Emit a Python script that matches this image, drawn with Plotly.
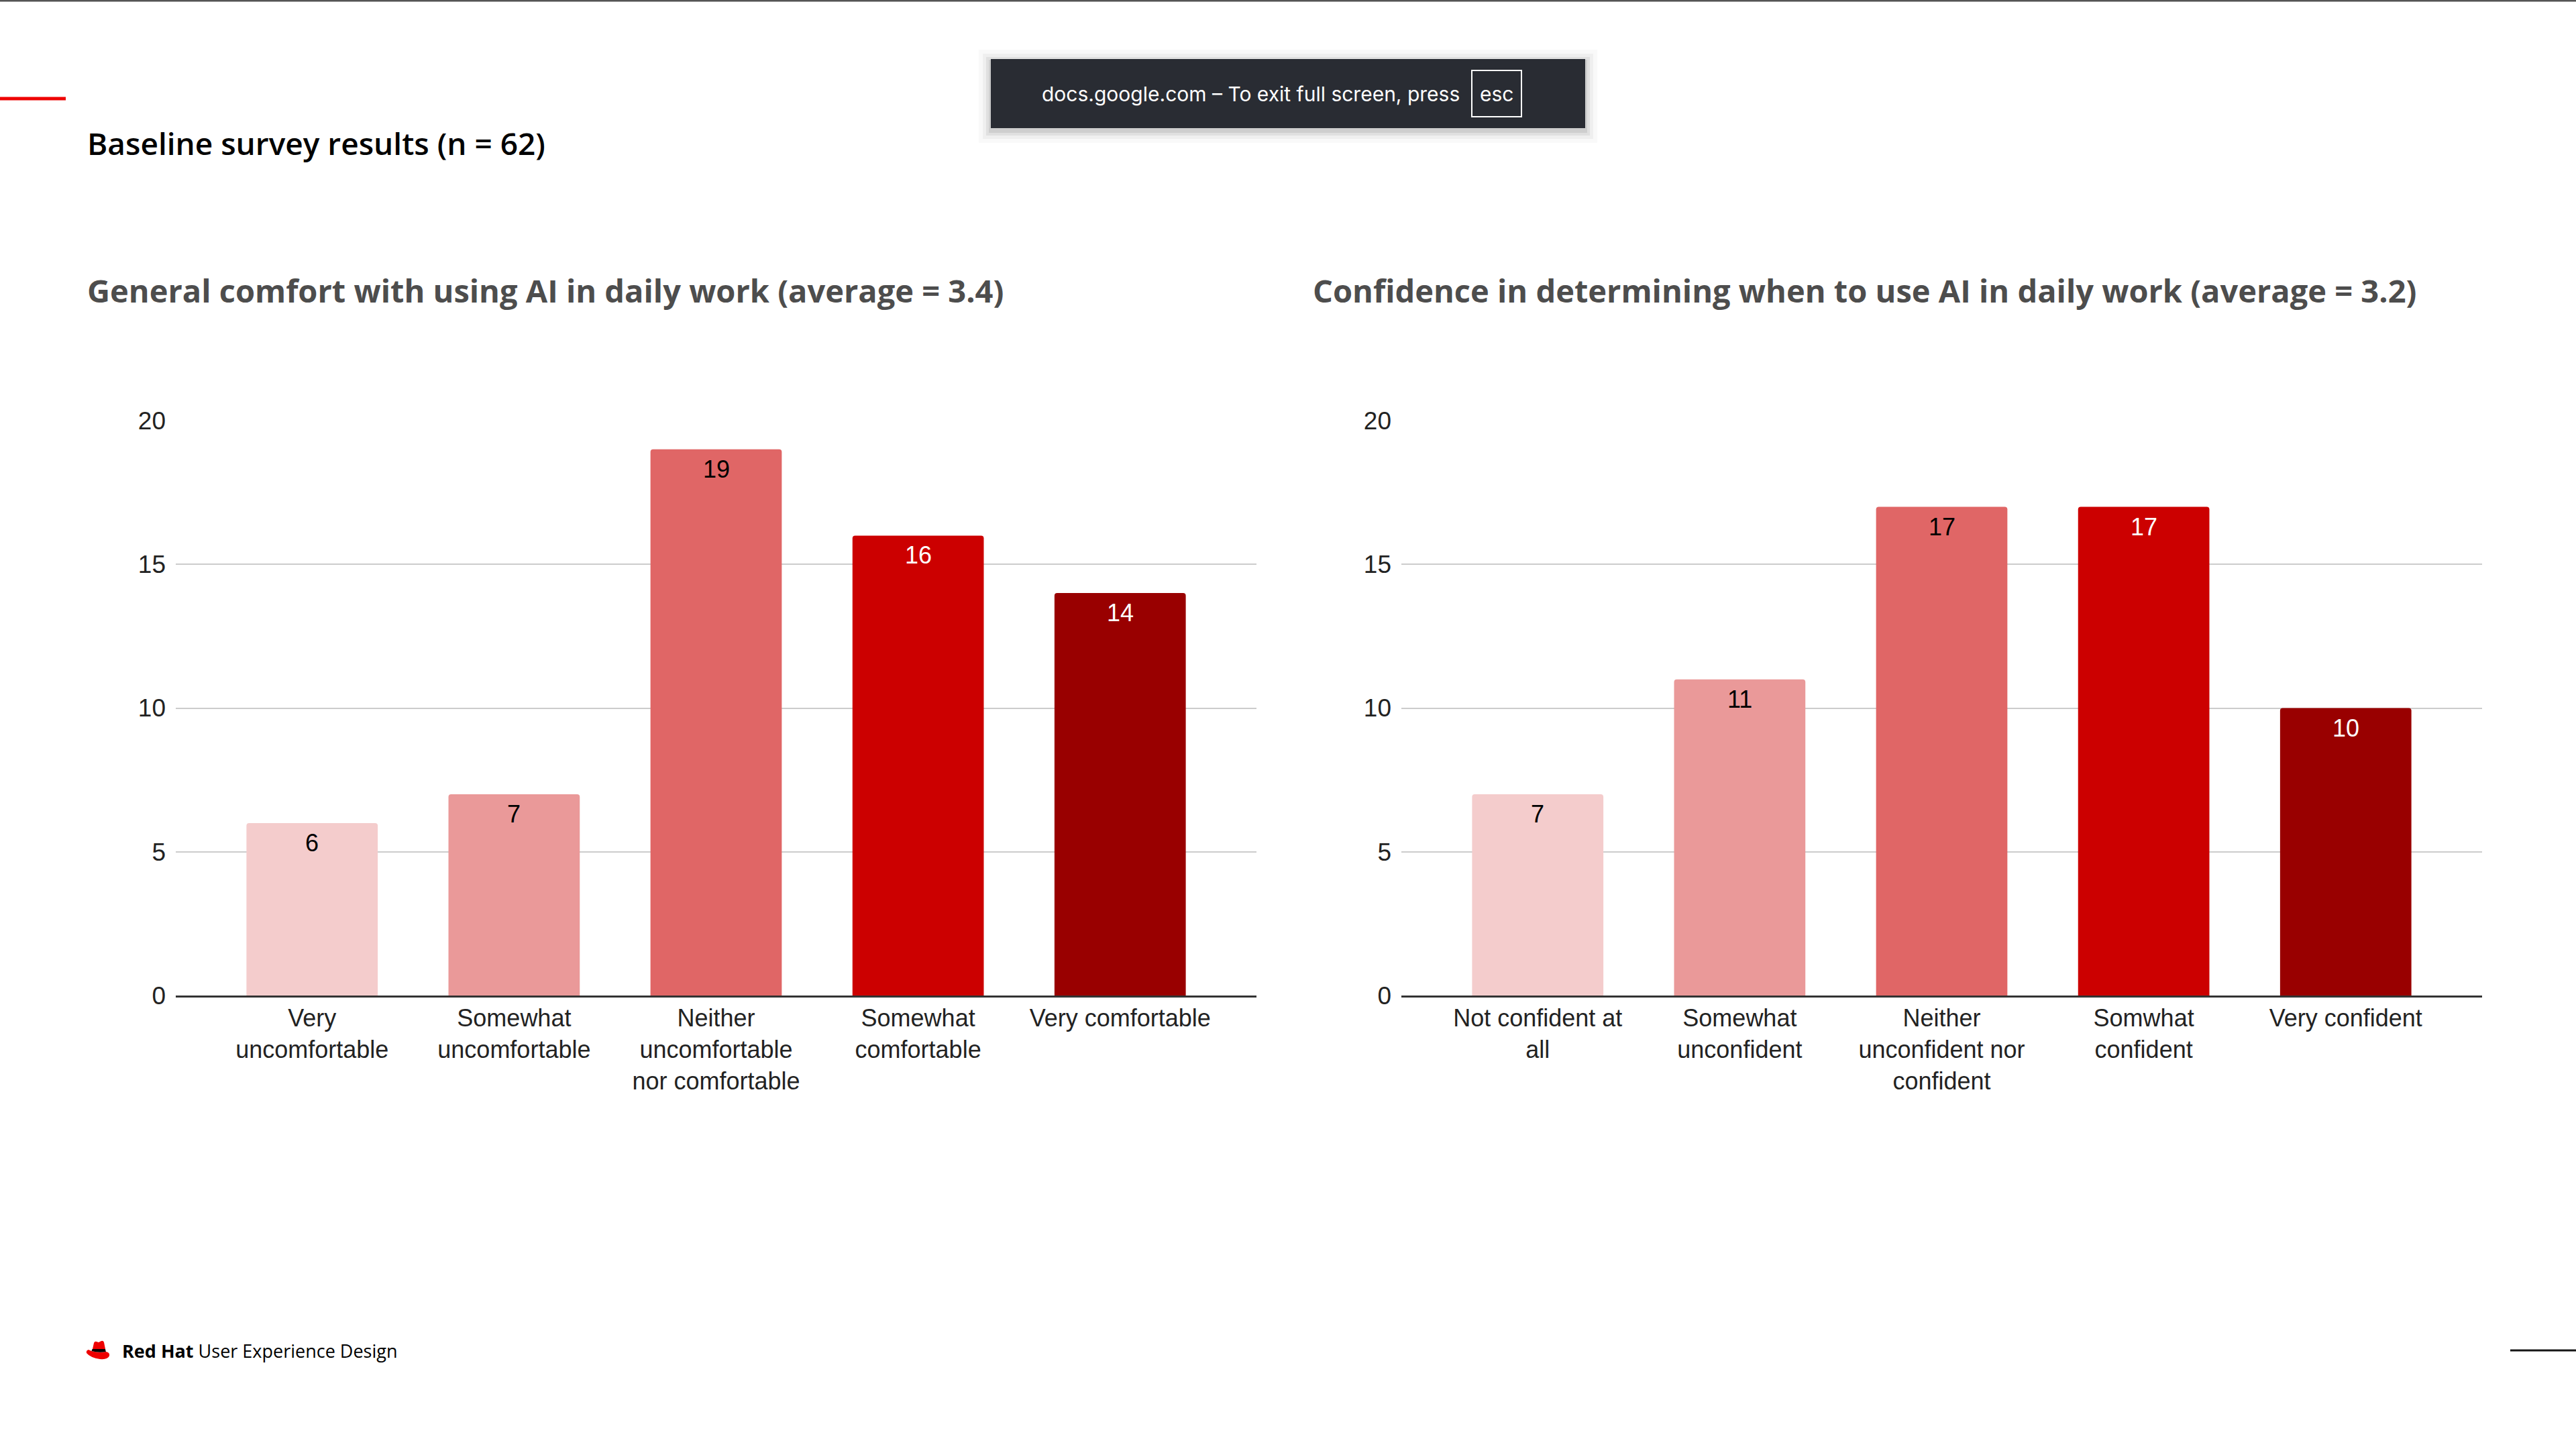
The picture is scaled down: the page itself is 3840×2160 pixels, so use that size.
import plotly.graph_objects as go

W, H = 3840, 2160

# ---------------- data ----------------
main_title = "Baseline survey results (n = 62)"
left_title = "General comfort with using AI in daily work (average = 3.4)"
right_title = "Confidence in determining when to use AI in daily work (average = 3.2)"

left_categories = [
    "Very<br>uncomfortable",
    "Somewhat<br>uncomfortable",
    "Neither<br>uncomfortable<br>nor comfortable",
    "Somewhat<br>comfortable",
    "Very comfortable",
]
left_values = [6, 7, 19, 16, 14]

right_categories = [
    "Not confident at<br>all",
    "Somewhat<br>unconfident",
    "Neither<br>unconfident nor<br>confident",
    "Somwhat<br>confident",
    "Very confident",
]
right_values = [7, 11, 17, 17, 10]

y_ticks = [0, 5, 10, 15, 20]

bar_colors = ["#f4cccc", "#ea9999", "#e06666", "#cc0000", "#990000"]
label_colors = ["#000000", "#000000", "#000000", "#ffffff", "#ffffff"]

toast_text = "docs.google.com – To exit full screen, press"
footer_text = "<b>Red Hat</b> User Experience Design"


# ---------------- helpers ----------------
def px(x):
    return x / W


def py(y):
    return 1 - y / H


AX_FONT = dict(family="Liberation Sans, Arial, sans-serif", size=36, color="#222222")

fig = go.Figure()

for cats, vals, xa, ya in [
    (left_categories, left_values, "x", "y"),
    (right_categories, right_values, "x2", "y2"),
]:
    fig.add_trace(
        go.Bar(
            x=cats,
            y=vals,
            marker=dict(color=bar_colors, line=dict(width=0)),
            width=0.65,
            xaxis=xa,
            yaxis=ya,
            hoverinfo="skip",
            showlegend=False,
        )
    )

x_common = dict(
    type="category",
    range=[-0.675, 4.675],
    showgrid=False,
    showline=True,
    linecolor="#333333",
    linewidth=3,
    ticks="",
    tickfont=AX_FONT,
    automargin=False,
    fixedrange=True,
)
y_common = dict(
    range=[0, 20],
    tickvals=y_ticks,
    showgrid=True,
    gridcolor="#cccccc",
    gridwidth=2,
    zeroline=False,
    showline=False,
    ticks="",
    tickfont=dict(AX_FONT, size=37),
    ticklabelstandoff=14,
    automargin=False,
    fixedrange=True,
    domain=[py(1484), py(627)],
)

fig.update_layout(
    width=W,
    height=H,
    autosize=False,
    margin=dict(l=0, r=0, t=0, b=0, pad=0, autoexpand=False),
    paper_bgcolor="white",
    plot_bgcolor="white",
    showlegend=False,
    barcornerradius=4,
    xaxis=dict(x_common, domain=[px(262), px(1873)], anchor="y"),
    yaxis=dict(y_common, anchor="x"),
    xaxis2=dict(x_common, domain=[px(2089), px(3700)], anchor="y2"),
    yaxis2=dict(y_common, anchor="x2"),
)

annotations = []
# value labels
for cats, vals, xr, yr in [
    (left_categories, left_values, "x", "y"),
    (right_categories, right_values, "x2", "y2"),
]:
    for i, (c, v) in enumerate(zip(cats, vals)):
        annotations.append(
            dict(
                x=c,
                y=v,
                xref=xr,
                yref=yr,
                text=str(v),
                showarrow=False,
                yanchor="top",
                yshift=-7,
                font=dict(family="Liberation Sans, Arial, sans-serif", size=36, color=label_colors[i]),
            )
        )

# titles
annotations.append(
    dict(x=px(128), y=py(213), xref="paper", yref="paper", xanchor="left", yanchor="middle",
         text=main_title, showarrow=False,
         font=dict(family="Open Sans", size=46, color="#000000", weight=600))
)
for t, x0 in [(left_title, 128), (right_title, 1955)]:
    annotations.append(
        dict(x=px(x0), y=py(433), xref="paper", yref="paper", xanchor="left", yanchor="middle",
             text=t, showarrow=False,
             font=dict(family="Open Sans", size=47, color="#4d4d4d", weight=700))
    )

# toast
annotations.append(
    dict(x=px(2178), y=py(140), xref="paper", yref="paper", xanchor="right", yanchor="middle",
         text=toast_text, showarrow=False,
         font=dict(family="Inter", size=30, color="#ffffff"))
)
annotations.append(
    dict(x=px(2231), y=py(140), xref="paper", yref="paper", xanchor="center", yanchor="middle",
         text="esc", showarrow=False,
         font=dict(family="Inter", size=30, color="#ffffff"))
)

# footer
annotations.append(
    dict(x=px(180), y=py(2013), xref="paper", yref="paper", xanchor="left", yanchor="middle",
         text=footer_text, showarrow=False,
         font=dict(family="Open Sans", size=27, color="#000000"))
)

fig.update_layout(annotations=annotations)

shapes = []
# top border line
shapes.append(dict(type="line", xref="paper", yref="paper", x0=0, x1=1, y0=py(1), y1=py(1),
                   line=dict(color="#555555", width=3)))
# red accent line
shapes.append(dict(type="line", xref="paper", yref="paper", x0=0, x1=px(98), y0=py(147), y1=py(147),
                   line=dict(color="#ee0000", width=5)))
# bottom right line
shapes.append(dict(type="line", xref="paper", yref="paper", x0=px(3742), x1=1, y0=py(2013), y1=py(2013),
                   line=dict(color="#151515", width=3)))

# toast shadow + box
for k, a in [(18, 0.025), (12, 0.04), (7, 0.06), (3, 0.08)]:
    shapes.append(dict(type="rect", xref="paper", yref="paper",
                       x0=px(1477 - k), x1=px(2363 + k), y0=py(191 + k + 4), y1=py(88 - k + 4),
                       fillcolor=f"rgba(0,0,0,{a})", line=dict(width=0), layer="above"))
shapes.append(dict(type="rect", xref="paper", yref="paper",
                   x0=px(1477), x1=px(2363), y0=py(191), y1=py(88),
                   fillcolor="#292c33", line=dict(width=0), layer="above"))
shapes.append(dict(type="rect", xref="paper", yref="paper",
                   x0=px(2194), x1=px(2268), y0=py(174), y1=py(105),
                   fillcolor="rgba(0,0,0,0)", line=dict(color="#ffffff", width=2), layer="above"))


# Red Hat fedora logo
def logo_path(pts_cmds, ox=127, oy=1998):
    out = []
    for cmd, coords in pts_cmds:
        if cmd == "Z":
            out.append("Z")
            continue
        pairs = []
        for (lx, ly) in coords:
            pairs.append(f"{px(ox + lx):.6f},{py(oy + ly):.6f}")
        out.append(cmd + " " + " ".join(pairs))
    return " ".join(out)


crown = [("M", [(11, 13)]), ("L", [(13, 4)]), ("Q", [(14, 1), (17, 2)]), ("L", [(20, 3)]),
         ("L", [(24, 1)]), ("Q", [(27, 0), (28, 3)]), ("L", [(30, 13)]), ("Z", [])]
band = [("M", [(10.5, 13)]), ("L", [(30, 13)]), ("L", [(30.8, 17)]), ("Q", [(20, 19), (9.5, 16)]), ("Z", [])]
brim = [("M", [(9.5, 16)]), ("Q", [(20, 19), (30.8, 17)]), ("Q", [(37, 18), (36, 23)]),
        ("Q", [(34, 29), (22, 28)]), ("Q", [(8, 26), (2, 19)]), ("Q", [(1, 15), (5, 14)]),
        ("Q", [(7, 15), (9.5, 16)]), ("Z", [])]
for p, col in [(crown, "#ee0000"), (brim, "#ee0000"), (band, "#000000")]:
    shapes.append(dict(type="path", xref="paper", yref="paper", path=logo_path(p),
                       fillcolor=col, line=dict(width=0)))

fig.update_layout(shapes=shapes)

post = (
    "document.documentElement.style.margin='0';"
    "document.documentElement.style.padding='0';"
    "document.documentElement.style.overflow='hidden';"
    "document.body.style.margin='0';"
    "document.body.style.padding='0';"
    "document.body.style.overflow='hidden';"
    "var gd=document.querySelector('.plotly-graph-div');"
    "gd.style.position='fixed';gd.style.top='0px';gd.style.left='0px';"
)

fig.write_html("out.html", config={"displayModeBar": False}, post_script=post)
